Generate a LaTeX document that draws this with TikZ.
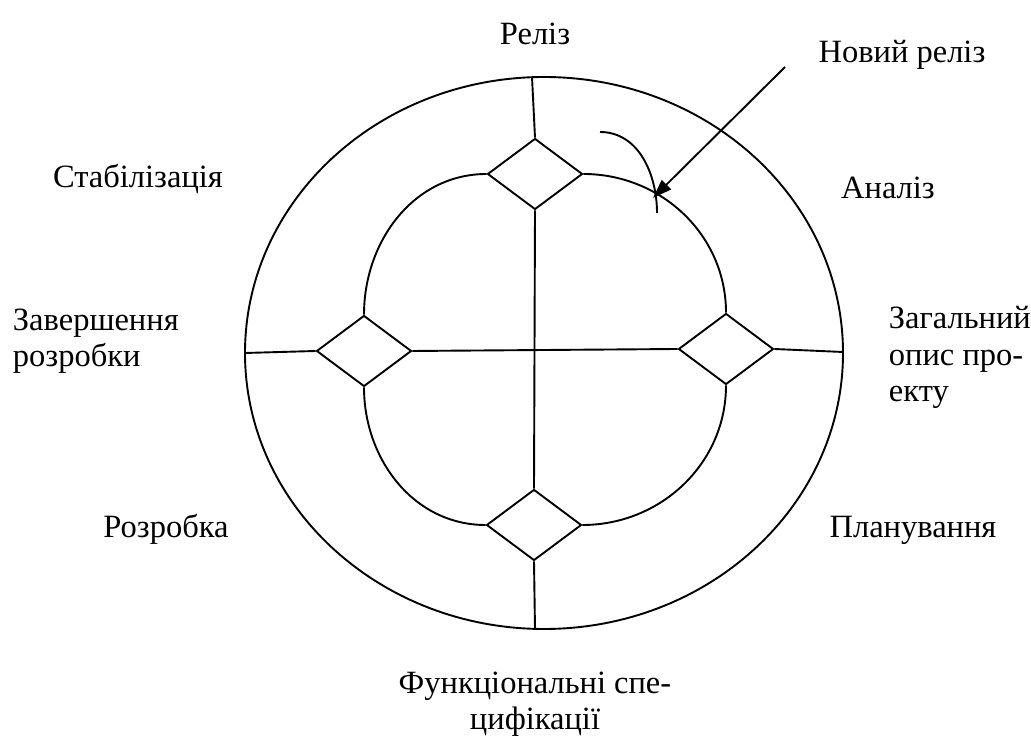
\documentclass[tikz,border=0pt]{standalone}
\usepackage{fontspec}
\setmainfont{Liberation Serif}
\usetikzlibrary{arrows.meta, shapes.geometric}

\begin{document}
\begin{tikzpicture}[x=1pt, y=1pt, >={Triangle[length=19pt,width=13pt]}, line width=1.9pt,
    dm/.style={draw, diamond, minimum width=95pt, minimum height=71pt, inner sep=0pt},
    lbl/.style={font=\fontsize{32.5}{36.5}\selectfont, inner sep=0pt, anchor=base},
    mlbl/.style={lbl, align=left, anchor=base west}]
  \useasboundingbox (0,0) rectangle (1031,738);
  % outer ring
  \draw (544,385) ellipse [x radius=299, y radius=276];
  \coordinate (et) at (532,661);
  \coordinate (eb) at (535,109);
  \coordinate (el) at (245,385);
  \coordinate (er) at (843,386);
  % milestones
  \node[dm] (dt) at (535,564) {};
  \node[dm] (dl) at (364,387) {};
  \node[dm] (dr) at (726,389) {};
  \node[dm] (db) at (534,213) {};
  \draw (et) -- (dt.north);
  \draw (dt.south) -- (db.north);
  \draw (db.south) -- (eb);
  \draw (el) -- (dl.west);
  \draw (dl.east) -- (dr.west);
  \draw (dr.east) -- (er);
  \draw (dt.east) to[out=0, in=90] (dr.north);
  \draw (dt.west) to[out=180, in=90] (dl.north);
  \draw (dl.south) to[out=-90, in=180] (db.west);
  \draw (dr.south) to[out=-90, in=0] (db.east);
  % new release
  \coordinate (a1) at (600,606);
  \coordinate (a2) at (657,525);
  \draw (a1) to[out=0, in=90] (a2);
  \coordinate (n1) at (785,671);
  \coordinate (n2) at (653,540);
  \draw[->] (n1) -- (n2);
  % phases
  \node[lbl] (rel) at (535,693) {Реліз};
  \node[lbl] (nrel) at (902,675) {Новий реліз};
  \node[lbl] (stab) at (138,550) {Стабілізація};
  \node[lbl] (anal) at (888,539) {Аналіз};
  \node[mlbl] (zav) at (12,371) {Завершення\\розробки};
  \node[mlbl] (zag) at (888,336) {Загальний\\опис про-\\екту};
  \node[lbl] (rozr) at (166,200) {Розробка};
  \node[lbl] (plan) at (913,200) {Планування};
  \node[lbl, align=center] (func) at (535,8) {Функціональні спе-\\цифікації};
\end{tikzpicture}
\end{document}
